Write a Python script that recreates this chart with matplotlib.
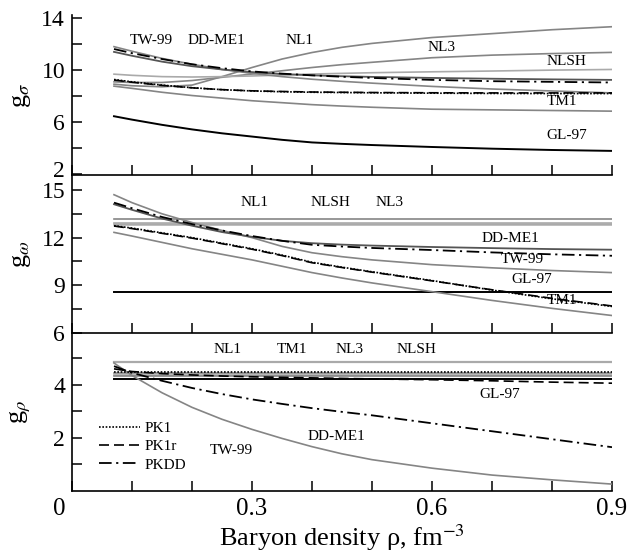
import matplotlib
matplotlib.use('Agg')
from matplotlib import pyplot as plt
from matplotlib.ticker import FixedLocator
from matplotlib.transforms import ScaledTranslation

plt.rcParams['font.family'] = ['Liberation Serif', 'DejaVu Serif']
plt.rcParams['mathtext.fontset'] = 'stix'

# baryon density grid (fm^-3)
rho = [0.07, 0.1, 0.15, 0.2, 0.25, 0.3, 0.35, 0.4, 0.45, 0.5, 0.6, 0.7, 0.8, 0.9]
rho_flat = [0.07, 0.9]

# g_sigma
gs_NL1 = [8.92, 8.8, 8.72, 8.85, 9.5, 10.2, 10.85, 11.35, 11.75, 12.05, 12.5, 12.8, 13.1, 13.33]
gs_NL3 = [9.1, 9.05, 9.05, 9.2, 9.45, 9.7, 9.95, 10.2, 10.42, 10.6, 10.95, 11.15, 11.27, 11.36]
gs_NLSH = [9.69, 9.6, 9.5, 9.47, 9.5, 9.55, 9.62, 9.7, 9.75, 9.8, 9.87, 9.93, 10.0, 10.05]
gs_TM1 = [8.77, 8.6, 8.3, 8.05, 7.85, 7.65, 7.5, 7.35, 7.24, 7.15, 7.0, 6.95, 6.9, 6.85]
gs_GL97 = [6.46, 6.2, 5.8, 5.45, 5.15, 4.9, 4.65, 4.45, 4.34, 4.25, 4.1, 3.97, 3.87, 3.8]
gs_TW99 = [11.8, 11.45, 10.9, 10.45, 10.05, 9.75, 9.5, 9.3, 9.14, 9.0, 8.75, 8.55, 8.4, 8.25]
gs_DDME1 = [11.4, 11.1, 10.65, 10.3, 10.05, 9.85, 9.7, 9.6, 9.53, 9.48, 9.4, 9.34, 9.29, 9.25]
gs_PKDD = [11.62, 11.3, 10.85, 10.45, 10.15, 9.9, 9.73, 9.6, 9.49, 9.4, 9.25, 9.15, 9.1, 9.05]
gs_PK1 = [9.28, 9.1, 8.85, 8.65, 8.5, 8.4, 8.34, 8.3, 8.28, 8.26, 8.23, 8.21, 8.2, 8.2]
gs_PK1r = [9.24, 9.07, 8.83, 8.64, 8.5, 8.41, 8.36, 8.32, 8.3, 8.28, 8.26, 8.25, 8.25, 8.25]

# g_omega
gw_NL1 = [13.17, 13.17]
gw_NL3 = [12.87, 12.87]
gw_NLSH = [12.93, 12.93]
gw_GL97 = [8.6, 8.6]
gw_TW99 = [14.7, 14.2, 13.5, 12.95, 12.45, 12.0, 11.45, 11.05, 10.8, 10.6, 10.3, 10.1, 9.93, 9.8]
gw_DDME1 = [14.1, 13.75, 13.2, 12.75, 12.35, 12.05, 11.8, 11.65, 11.56, 11.5, 11.41, 11.34, 11.28, 11.24]
gw_PKDD = [14.2, 13.85, 13.3, 12.85, 12.45, 12.1, 11.8, 11.55, 11.44, 11.35, 11.22, 11.07, 10.95, 10.86]
gw_PK1 = [12.75, 12.6, 12.3, 12.0, 11.65, 11.3, 10.9, 10.45, 10.14, 9.85, 9.3, 8.7, 8.15, 7.67]
gw_PK1r = [12.73, 12.57, 12.27, 11.97, 11.62, 11.27, 10.87, 10.42, 10.12, 9.83, 9.28, 8.72, 8.18, 7.7]
gw_TM1 = [12.33, 12.1, 11.7, 11.3, 10.95, 10.6, 10.2, 9.8, 9.46, 9.15, 8.6, 8.05, 7.55, 7.1]

# g_rho
gr_NL1 = [4.87, 4.87]
gr_PK1 = [4.5, 4.5]
gr_NL3 = [4.45, 4.45]
gr_TM1 = [4.38, 4.38]
gr_NLSH = [4.32, 4.32]
gr_GL97 = [4.2, 4.2]
gr_PK1r = [4.6, 4.5, 4.42, 4.37, 4.33, 4.3, 4.28, 4.26, 4.24, 4.22, 4.19, 4.15, 4.1, 4.06]
gr_PKDD = [4.7, 4.45, 4.15, 3.88, 3.65, 3.45, 3.28, 3.12, 2.98, 2.85, 2.55, 2.25, 1.95, 1.65]
gr_TW99 = [4.82, 4.35, 3.7, 3.15, 2.7, 2.32, 1.98, 1.67, 1.4, 1.18, 0.86, 0.6, 0.42, 0.26]

grey = '#858585'
light = '#aaaaaa'
dark = '#555555'
dashdot = (0, (7, 2.5, 1.2, 2.5))
dashed = (0, (6, 3))
dotted = (0, (1, 1))

fig = plt.figure(figsize=(6.28, 5.59), dpi=100)
L, W = 72 / 628, 540 / 628
ax1 = fig.add_axes([L, 1 - 175 / 559, W, 160 / 559])
ax2 = fig.add_axes([L, 1 - 333 / 559, W, 158 / 559])
ax3 = fig.add_axes([L, 1 - 491 / 559, W, 158 / 559])

# sigma
ax1.plot(rho, gs_NL1, color=grey, lw=1.2)
ax1.plot(rho, gs_NL3, color=grey, lw=1.2)
ax1.plot(rho, gs_NLSH, color=light, lw=1.2)
ax1.plot(rho, gs_TM1, color=grey, lw=1.2)
ax1.plot(rho, gs_TW99, color=grey, lw=1.2)
ax1.plot(rho, gs_DDME1, color=dark, lw=1.3)
ax1.plot(rho, gs_GL97, color='black', lw=1.4)
ax1.plot(rho, gs_PKDD, color='black', lw=1.3, ls=dashdot)
ax1.plot(rho, gs_PK1, color='black', lw=1.2, ls=dotted)
ax1.plot(rho, gs_PK1r, color='black', lw=1.2, ls=dashed)

# omega
ax2.plot(rho_flat, gw_NL1, color=grey, lw=1.2)
ax2.plot(rho_flat, gw_NL3, color=light, lw=1.8)
ax2.plot(rho_flat, gw_NLSH, color=light, lw=1.2)
ax2.plot(rho_flat, gw_GL97, color='black', lw=1.4)
ax2.plot(rho, gw_TW99, color=grey, lw=1.2)
ax2.plot(rho, gw_DDME1, color=dark, lw=1.3)
ax2.plot(rho, gw_TM1, color=grey, lw=1.2)
ax2.plot(rho, gw_PKDD, color='black', lw=1.3, ls=dashdot)
ax2.plot(rho, gw_PK1, color='black', lw=1.2, ls=dotted)
ax2.plot(rho, gw_PK1r, color='black', lw=1.2, ls=dashed)

# rho
ax3.plot(rho_flat, gr_NL1, color=light, lw=1.6)
ax3.plot(rho_flat, gr_NL3, color=grey, lw=1.2)
ax3.plot(rho_flat, gr_TM1, color=light, lw=1.2)
ax3.plot(rho_flat, gr_NLSH, color=grey, lw=1.2)
ax3.plot(rho_flat, gr_GL97, color='black', lw=1.4)
ax3.plot(rho, gr_TW99, color=grey, lw=1.2)
ax3.plot(rho_flat, gr_PK1, color='black', lw=1.2, ls=dotted, label='PK1')
ax3.plot(rho, gr_PK1r, color='black', lw=1.2, ls=dashed, label='PK1r')
ax3.plot(rho, gr_PKDD, color='black', lw=1.3, ls=dashdot, label='PKDD')

ax3.legend(loc='upper left', bbox_to_anchor=(0.05, 0.44), frameon=False, fontsize=11,
           handlelength=2.7, handletextpad=0.3, labelspacing=0.3, borderaxespad=0, borderpad=0)

lbl = dict(fontsize=11, ha='center', va='center')
ax1.text(0.133, 12.25, 'TW-99', **lbl)
ax1.text(0.241, 12.25, 'DD-ME1', **lbl)
ax1.text(0.38, 12.25, 'NL1', **lbl)
ax1.text(0.616, 11.72, 'NL3', **lbl)
ax1.text(0.824, 10.64, 'NLSH', **lbl)
ax1.text(0.816, 7.56, 'TM1', **lbl)
ax1.text(0.824, 4.95, 'GL-97', **lbl)

ax2.text(0.305, 14.18, 'NL1', **lbl)
ax2.text(0.43, 14.18, 'NLSH', **lbl)
ax2.text(0.529, 14.18, 'NL3', **lbl)
ax2.text(0.73, 11.97, 'DD-ME1', **lbl)
ax2.text(0.75, 10.61, 'TW-99', **lbl)
ax2.text(0.766, 9.35, 'GL-97', **lbl)
ax2.text(0.816, 8.03, 'TM1', **lbl)

ax3.text(0.26, 5.32, 'NL1', **lbl)
ax3.text(0.366, 5.32, 'TM1', **lbl)
ax3.text(0.463, 5.32, 'NL3', **lbl)
ax3.text(0.574, 5.32, 'NLSH', **lbl)
ax3.text(0.713, 3.62, 'GL-97', **lbl)
ax3.text(0.441, 2.05, 'DD-ME1', **lbl)
ax3.text(0.266, 1.52, 'TW-99', **lbl)

ax1.set_ylim(1.95, 14.23)
ax2.set_ylim(6, 15.94)
ax3.set_ylim(0, 5.95)
ax1.yaxis.set_major_locator(FixedLocator([2, 6, 10, 14]))
ax1.yaxis.set_minor_locator(FixedLocator([4, 8, 12]))
ax2.yaxis.set_major_locator(FixedLocator([6, 9, 12, 15]))
ax2.yaxis.set_minor_locator(FixedLocator([7.5, 10.5, 13.5]))
ax3.yaxis.set_major_locator(FixedLocator([2, 4]))
ax3.yaxis.set_minor_locator(FixedLocator([1, 3, 5]))

for ax in (ax1, ax2, ax3):
    ax.set_xlim(0, 0.9)
    ax.xaxis.set_major_locator(FixedLocator([0, 0.3, 0.6, 0.9]))
    ax.xaxis.set_minor_locator(FixedLocator([0.1, 0.2, 0.4, 0.5, 0.7, 0.8]))
    ax.spines['top'].set_visible(False)
    ax.spines['right'].set_visible(False)
    ax.spines['left'].set_linewidth(1.2)
    ax.spines['bottom'].set_linewidth(1.2)
    ax.tick_params(which='both', direction='in', length=7, width=1.1, labelsize=17, pad=5)
    ax.patch.set_visible(False)

ax1.tick_params(axis='x', labelbottom=False)
ax2.tick_params(axis='x', labelbottom=False)
ax3.set_xticklabels(['0', '0.3', '0.6', '0.9'])
ax3.tick_params(axis='x', labelsize=18)
# the zero label sits a bit to the left in the original
t0 = ax3.get_xticklabels()[0]
t0.set_transform(t0.get_transform() + ScaledTranslation(-0.13, 0, fig.dpi_scale_trans))
# lowest sigma label is lifted a little off the panel edge
t2 = ax1.get_yticklabels()[0]
t2.set_transform(t2.get_transform() + ScaledTranslation(0, 0.05, fig.dpi_scale_trans))

ax1.set_ylabel('g$_\\sigma$', fontsize=19)
ax2.set_ylabel('g$_\\omega$', fontsize=19)
ax3.set_ylabel('g$_\\rho$', fontsize=19)
for ax in (ax1, ax2, ax3):
    ax.yaxis.set_label_coords(-0.072, 0.5)
ax3.set_xlabel('Baryon density ρ, fm$^{-3}$', fontsize=19, labelpad=2)

fig.savefig('out.png', dpi=100)
